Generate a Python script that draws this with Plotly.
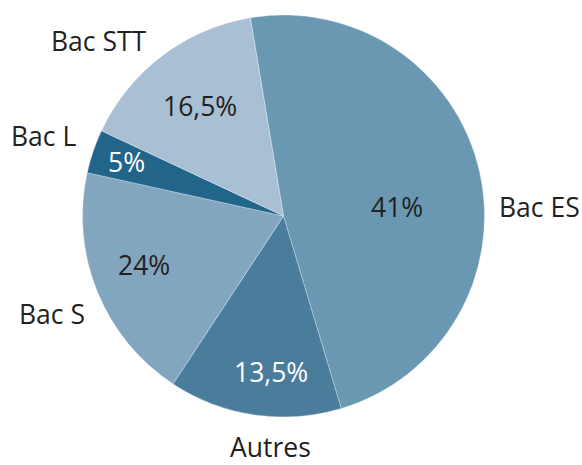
import plotly.graph_objects as go

# Categories in drawing order (clockwise from the top)
categories = ["Bac ES", "Autres", "Bac S", "Bac L", "Bac STT"]
# Printed percentages
pct_labels = ["41%", "13,5%", "24%", "5%", "16,5%"]
# Slice shares as drawn in the picture (angle of each wedge, in %)
drawn_shares = [48.0, 13.9, 19.2, 3.5, 15.4]
colors = ["#6a97b2", "#4a7c9c", "#82a6c0", "#21658a", "#a9c0d4"]
text_colors = ["#231f20", "#ffffff", "#231f20", "#ffffff", "#231f20"]

W, H = 582, 465
cx, cy, r = 283.5, 216, 201

fig = go.Figure(go.Pie(
    labels=categories,
    values=drawn_shares,
    sort=False,
    direction="clockwise",
    rotation=-9.5,
    marker=dict(colors=colors, line=dict(color="rgba(255,255,255,0.5)", width=0.6)),
    textinfo="none",
    hoverinfo="label",
    showlegend=False,
    domain=dict(x=[(cx - r) / W, (cx + r) / W], y=[1 - (cy + r) / H, 1 - (cy - r) / H]),
))

FONT = "Open Sans"
FS = 26.5
# (x, y) pixel centres for percentages and outer labels
pct_pos = [(397, 207), (271, 372), (144, 265), (126, 162), (200, 106)]
lab_pos = [(539, 207), (270, 447), (52, 314), (43, 136), (99, 41)]

for i, cat in enumerate(categories):
    px, py = pct_pos[i]
    fig.add_annotation(x=px / W, y=1 - py / H, xref="paper", yref="paper",
                       text=pct_labels[i], showarrow=False,
                       font=dict(family=FONT, size=FS, color=text_colors[i]),
                       xanchor="center", yanchor="middle")
    lx, ly = lab_pos[i]
    fig.add_annotation(x=lx / W, y=1 - ly / H, xref="paper", yref="paper",
                       text=cat, showarrow=False,
                       font=dict(family=FONT, size=FS, color="#231f20"),
                       xanchor="center", yanchor="middle")

fig.update_layout(width=W, height=H, margin=dict(l=0, r=0, t=0, b=0),
                  paper_bgcolor="white", plot_bgcolor="white")
fig.write_html("out.html", config={"displayModeBar": False},
               post_script="document.body.style.margin='0';document.body.style.overflow='hidden';")
